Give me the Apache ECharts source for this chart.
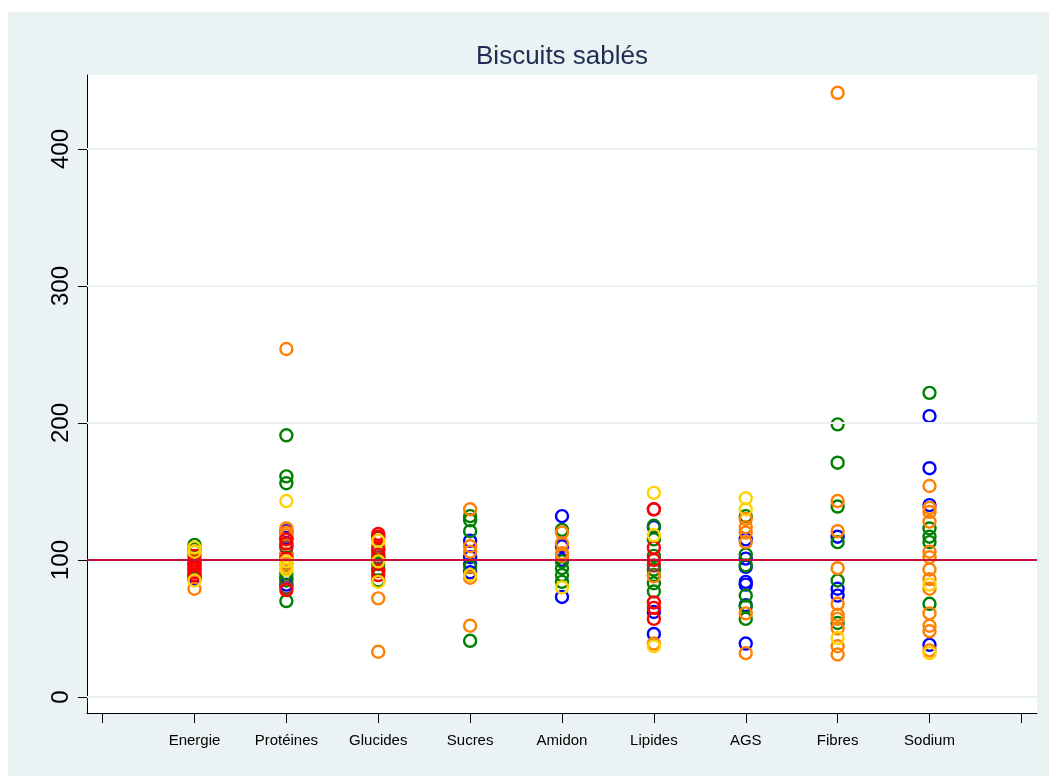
<!DOCTYPE html>
<html><head><meta charset="utf-8">
<script src="https://cdn.jsdelivr.net/npm/echarts@6/dist/echarts.min.js"></script>
<style>html,body{margin:0;padding:0;background:#fff}#c{width:1049px;height:776px}</style>
</head><body><div id="c"></div>
<script>
const chartTitle = 'Biscuits sablés';
const categories = ['Energie', 'Protéines', 'Glucides', 'Sucres', 'Amidon', 'Lipides', 'AGS', 'Fibres', 'Sodium'];
const yTicks = [0, 100, 200, 300, 400];
const xTicks = [0, 1, 2, 3, 4, 5, 6, 7, 8, 9, 10];
const refValue = 100;

const bluePts = [
  ['Energie', 88], ['Energie', 86],
  ['Protéines', 121], ['Protéines', 116], ['Protéines', 87], ['Protéines', 82],
  ['Sucres', 114], ['Sucres', 102], ['Sucres', 97], ['Sucres', 91],
  ['Amidon', 132], ['Amidon', 110], ['Amidon', 100], ['Amidon', 73],
  ['Lipides', 124], ['Lipides', 62], ['Lipides', 46],
  ['AGS', 115], ['AGS', 101], ['AGS', 95], ['AGS', 84], ['AGS', 82], ['AGS', 67], ['AGS', 39],
  ['Fibres', 117], ['Fibres', 79], ['Fibres', 74],
  ['Sodium', 205], ['Sodium', 167], ['Sodium', 140], ['Sodium', 38]
];
const greenPts = [
  ['Energie', 111], ['Energie', 94], ['Energie', 108],
  ['Protéines', 191], ['Protéines', 161], ['Protéines', 156], ['Protéines', 110], ['Protéines', 104], ['Protéines', 90], ['Protéines', 85], ['Protéines', 70],
  ['Glucides', 107], ['Glucides', 101], ['Glucides', 97], ['Glucides', 93], ['Glucides', 85],
  ['Sucres', 132], ['Sucres', 129], ['Sucres', 121], ['Sucres', 95], ['Sucres', 41],
  ['Amidon', 122], ['Amidon', 99], ['Amidon', 94], ['Amidon', 89], ['Amidon', 84],
  ['Lipides', 125], ['Lipides', 115], ['Lipides', 103], ['Lipides', 93], ['Lipides', 89], ['Lipides', 83], ['Lipides', 77],
  ['AGS', 132], ['AGS', 104], ['AGS', 96], ['AGS', 74], ['AGS', 66], ['AGS', 57],
  ['Fibres', 199], ['Fibres', 171], ['Fibres', 139], ['Fibres', 113], ['Fibres', 85], ['Fibres', 54],
  ['Sodium', 222], ['Sodium', 123], ['Sodium', 117], ['Sodium', 113], ['Sodium', 68]
];
const orangePts = [
  ['Energie', 79], ['Energie', 106],
  ['Protéines', 254], ['Protéines', 123], ['Protéines', 120], ['Protéines', 118], ['Protéines', 104], ['Protéines', 97],
  ['Glucides', 110], ['Glucides', 72], ['Glucides', 33],
  ['Sucres', 137], ['Sucres', 110], ['Sucres', 106], ['Sucres', 87], ['Sucres', 52],
  ['Amidon', 120], ['Amidon', 112], ['Amidon', 105], ['Amidon', 103],
  ['Lipides', 88], ['Lipides', 39],
  ['AGS', 130], ['AGS', 124], ['AGS', 120], ['AGS', 113], ['AGS', 61], ['AGS', 32],
  ['Fibres', 441], ['Fibres', 143], ['Fibres', 121], ['Fibres', 94], ['Fibres', 68], ['Fibres', 60], ['Fibres', 57], ['Fibres', 50], ['Fibres', 37], ['Fibres', 31],
  ['Sodium', 154], ['Sodium', 138], ['Sodium', 135], ['Sodium', 128], ['Sodium', 106], ['Sodium', 102], ['Sodium', 93], ['Sodium', 86], ['Sodium', 79], ['Sodium', 61], ['Sodium', 52], ['Sodium', 48], ['Sodium', 34]
];
const brownPts = [
  ['Energie', 97],
  ['Protéines', 109], ['Protéines', 80],
  ['Glucides', 116], ['Glucides', 102],
  ['Lipides', 137], ['Lipides', 96]
];
const redPts = [
  ['Energie', 103], ['Energie', 100], ['Energie', 98], ['Energie', 96], ['Energie', 93], ['Energie', 91], ['Energie', 89],
  ['Protéines', 115], ['Protéines', 112], ['Protéines', 101], ['Protéines', 78],
  ['Glucides', 119], ['Glucides', 117], ['Glucides', 108], ['Glucides', 104], ['Glucides', 92], ['Glucides', 89],
  ['Lipides', 137], ['Lipides', 109], ['Lipides', 100], ['Lipides', 69], ['Lipides', 65], ['Lipides', 57]
];
const yellowPts = [
  ['Energie', 109], ['Energie', 106], ['Energie', 85],
  ['Protéines', 143], ['Protéines', 99], ['Protéines', 95], ['Protéines', 93],
  ['Glucides', 114], ['Glucides', 99], ['Glucides', 84],
  ['Sucres', 89],
  ['Amidon', 80],
  ['Lipides', 149], ['Lipides', 118], ['Lipides', 37],
  ['AGS', 145], ['AGS', 137],
  ['Fibres', 43],
  ['Sodium', 82], ['Sodium', 32]
];

const groups = [
  { name: 'blue', color: '#0000FF', pts: bluePts },
  { name: 'green', color: '#008000', pts: greenPts },
  { name: 'orange', color: '#FF7F00', pts: orangePts },
  { name: 'brown', color: '#8B3A3A', pts: brownPts },
  { name: 'red', color: '#FF0000', pts: redPts },
  { name: 'yellow', color: '#FFD200', pts: yellowPts }
];

const chart = echarts.init(document.getElementById('c'), null, { renderer: 'canvas' });

const series = [{
  type: 'scatter', data: [], silent: true, z: 1,
  markLine: {
    silent: true, symbol: 'none', animation: false, label: { show: false },
    data: yTicks.filter(v => v !== refValue).map(v => ({ yAxis: v, lineStyle: { color: '#EAF2F3', width: 2, type: 'solid' } }))
      .concat([{ yAxis: refValue, lineStyle: { color: '#C8103C', width: 2, type: 'solid' } }])
  }
}];
groups.forEach(g => {
  series.push({
    type: 'scatter', name: g.name, z: 3,
    symbol: 'circle', symbolSize: 12,
    itemStyle: { color: 'rgba(0,0,0,0)', borderColor: g.color, borderWidth: 2.4, opacity: 1 },
    emphasis: { disabled: true },
    data: g.pts.map(p => [categories.indexOf(p[0]) + 1, p[1]])
  });
});

chart.setOption({
  animation: false,
  backgroundColor: '#EAF2F3',
  textStyle: { fontFamily: 'Liberation Sans, Arial, sans-serif' },
  graphic: [
    { type: 'rect', shape: { x: 0, y: 0, width: 1049, height: 12 }, style: { fill: '#fff' }, z: 0 },
    { type: 'rect', shape: { x: 0, y: 0, width: 8, height: 776 }, style: { fill: '#fff' }, z: 0 },
    { type: 'text', x: 562, y: 57, style: { text: chartTitle, fill: '#1E2D53', font: '26px "Liberation Sans", Arial, sans-serif', textAlign: 'center', textVerticalAlign: 'middle' }, z: 10 }
  ],
  grid: { left: 87, top: 75, right: 12, bottom: 63, show: true, backgroundColor: '#FFFFFF', borderWidth: 0 },
  xAxis: {
    type: 'value', min: -0.17, max: 10.17,
    axisLine: { show: true, onZero: false, lineStyle: { color: '#000', width: 1 } },
    axisTick: { show: true, customValues: xTicks, length: 10, lineStyle: { color: '#000', width: 1 } },
    axisLabel: {
      customValues: categories.map((c, i) => i + 1),
      formatter: v => categories[Math.round(v) - 1] || '',
      color: '#000', fontSize: 15, margin: 20, fontFamily: 'Liberation Sans'
    },
    splitLine: { show: false }
  },
  yAxis: {
    type: 'value', min: -11.7, max: 454,
    axisLine: { show: true, onZero: false, lineStyle: { color: '#000', width: 1 } },
    axisTick: { show: true, customValues: yTicks, length: 9, lineStyle: { color: '#000', width: 1 } },
    axisLabel: { customValues: yTicks, rotate: 90, color: '#000', fontSize: 24, margin: 14, fontFamily: 'Liberation Sans' },
    splitLine: { show: false }
  },
  series: series
});
</script></body></html>
